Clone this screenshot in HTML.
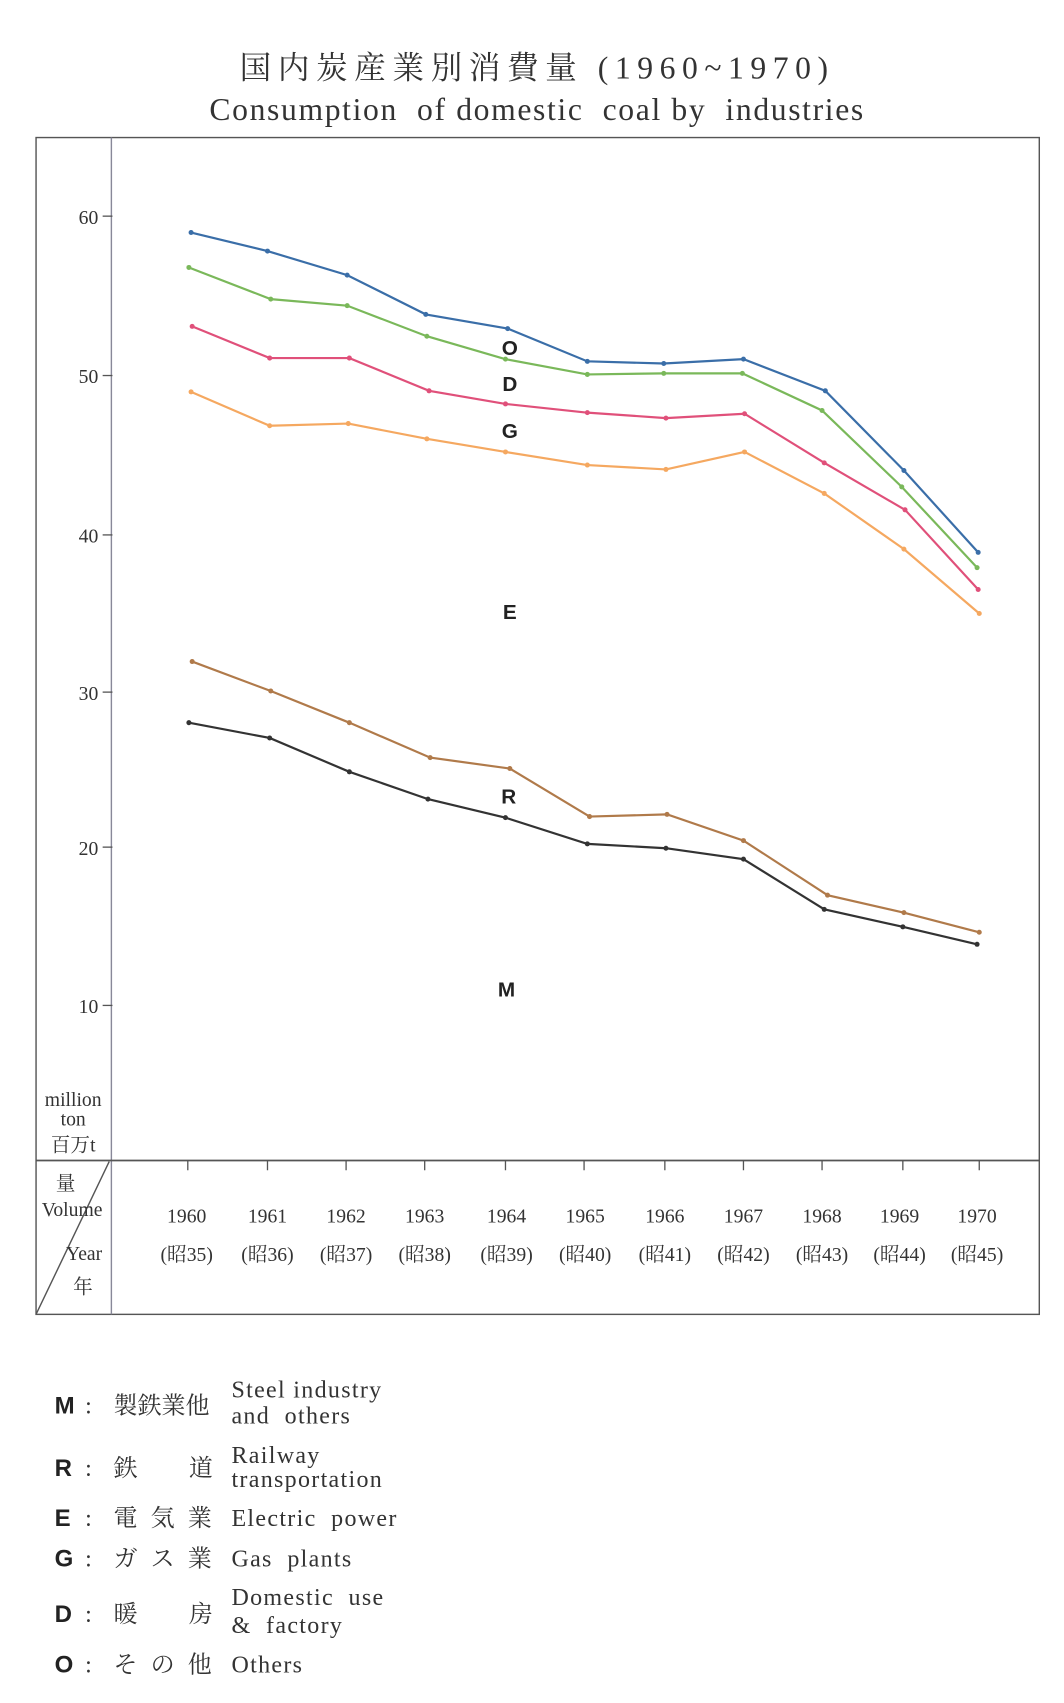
<!DOCTYPE html>
<html><head><meta charset="utf-8"><style>
html,body{margin:0;padding:0;background:#fff;}
svg{display:block;}
text{font-family:"Liberation Serif","Noto Serif CJK SC",serif;fill:#333;white-space:pre;}
.s{font-family:"Liberation Sans",sans-serif;font-weight:bold;fill:#222;}
</style></head><body>
<svg width="1064" height="1703" viewBox="0 0 974.6 1560" xmlns="http://www.w3.org/2000/svg" xml:space="preserve">
<rect width="974.6" height="1560" fill="#fff"/>
<text x="492" y="72" font-size="29" text-anchor="middle" letter-spacing="6">国内炭産業別消費量 (1960~1970)</text>
<text x="492" y="110" font-size="29" text-anchor="middle" letter-spacing="1.5">Consumption  of domestic  coal by  industries</text>
<g stroke="#555" fill="none" stroke-width="1.3">
<rect x="33" y="126" width="919" height="1078"/>
<line x1="102" y1="126" x2="102" y2="1204" stroke="#889"/>
<line x1="33" y1="1063" x2="952" y2="1063" stroke-width="1.6"/>
<line x1="33" y1="1204" x2="100" y2="1064"/>
<g stroke-width="1.2">
<line x1="94" y1="198" x2="103" y2="198"/><line x1="94" y1="344" x2="103" y2="344"/>
<line x1="94" y1="490" x2="103" y2="490"/><line x1="94" y1="634" x2="103" y2="634"/>
<line x1="94" y1="776" x2="103" y2="776"/><line x1="94" y1="921" x2="103" y2="921"/>
</g>
<g stroke-width="1.2">
<line x1="172" y1="1063" x2="172" y2="1072"/><line x1="245" y1="1063" x2="245" y2="1072"/>
<line x1="317" y1="1063" x2="317" y2="1072"/><line x1="389" y1="1063" x2="389" y2="1072"/>
<line x1="463" y1="1063" x2="463" y2="1072"/><line x1="535" y1="1063" x2="535" y2="1072"/>
<line x1="609" y1="1063" x2="609" y2="1072"/><line x1="681" y1="1063" x2="681" y2="1072"/>
<line x1="753" y1="1063" x2="753" y2="1072"/><line x1="827" y1="1063" x2="827" y2="1072"/>
<line x1="897" y1="1063" x2="897" y2="1072"/>
</g>
</g>
<g font-size="18" text-anchor="end">
<text x="90" y="205">60</text><text x="90" y="351">50</text><text x="90" y="497">40</text>
<text x="90" y="641">30</text><text x="90" y="783">20</text><text x="90" y="928">10</text>
</g>
<g font-size="18" text-anchor="middle">
<text x="67" y="1013">million</text><text x="67" y="1031">ton</text><text x="67" y="1055">百万t</text>
<text x="60" y="1090">量</text><text x="66" y="1114">Volume</text><text x="77" y="1154">Year</text><text x="76" y="1185">年</text>
</g>
<g font-size="18" text-anchor="middle">
<text x="171" y="1120">1960</text><text x="245" y="1120">1961</text><text x="317" y="1120">1962</text><text x="389" y="1120">1963</text><text x="464" y="1120">1964</text><text x="536" y="1120">1965</text><text x="609" y="1120">1966</text><text x="681" y="1120">1967</text><text x="753" y="1120">1968</text><text x="824" y="1120">1969</text><text x="895" y="1120">1970</text>
<text x="171" y="1155">(昭35)</text><text x="245" y="1155">(昭36)</text><text x="317" y="1155">(昭37)</text><text x="389" y="1155">(昭38)</text><text x="464" y="1155">(昭39)</text><text x="536" y="1155">(昭40)</text><text x="609" y="1155">(昭41)</text><text x="681" y="1155">(昭42)</text><text x="753" y="1155">(昭43)</text><text x="824" y="1155">(昭44)</text><text x="895" y="1155">(昭45)</text>
</g>
<g fill="none" stroke-width="2">
<polyline stroke="#3a6ea8" points="175,213 245,230 318,252 390,288 465,301 538,331 608,333 681,329 756,358 828,431 896,506"/>
<polyline stroke="#7ab85a" points="173,245 248,274 318,280 391,308 463,329 538,343 608,342 680,342 753,376 826,446 895,520"/>
<polyline stroke="#e0507a" points="176,299 247,328 320,328 393,358 463,370 538,378 610,383 682,379 755,424 829,467 896,540"/>
<polyline stroke="#f5a860" points="175,359 247,390 319,388 391,402 463,414 538,426 610,430 682,414 755,452 828,503 897,562"/>
<polyline stroke="#b07a4a" points="176,606 248,633 320,662 394,694 467,704 540,748 611,746 681,770 758,820 828,836 897,854"/>
<polyline stroke="#333" points="173,662 247,676 320,707 392,732 463,749 538,773 610,777 681,787 755,833 827,849 895,865"/>
</g>
<g fill="#3a6ea8"><circle cx="175" cy="213" r="2.3"/><circle cx="245" cy="230" r="2.3"/><circle cx="318" cy="252" r="2.3"/><circle cx="390" cy="288" r="2.3"/><circle cx="465" cy="301" r="2.3"/><circle cx="538" cy="331" r="2.3"/><circle cx="608" cy="333" r="2.3"/><circle cx="681" cy="329" r="2.3"/><circle cx="756" cy="358" r="2.3"/><circle cx="828" cy="431" r="2.3"/><circle cx="896" cy="506" r="2.3"/></g>
<g fill="#7ab85a"><circle cx="173" cy="245" r="2.3"/><circle cx="248" cy="274" r="2.3"/><circle cx="318" cy="280" r="2.3"/><circle cx="391" cy="308" r="2.3"/><circle cx="463" cy="329" r="2.3"/><circle cx="538" cy="343" r="2.3"/><circle cx="608" cy="342" r="2.3"/><circle cx="680" cy="342" r="2.3"/><circle cx="753" cy="376" r="2.3"/><circle cx="826" cy="446" r="2.3"/><circle cx="895" cy="520" r="2.3"/></g>
<g fill="#e0507a"><circle cx="176" cy="299" r="2.3"/><circle cx="247" cy="328" r="2.3"/><circle cx="320" cy="328" r="2.3"/><circle cx="393" cy="358" r="2.3"/><circle cx="463" cy="370" r="2.3"/><circle cx="538" cy="378" r="2.3"/><circle cx="610" cy="383" r="2.3"/><circle cx="682" cy="379" r="2.3"/><circle cx="755" cy="424" r="2.3"/><circle cx="829" cy="467" r="2.3"/><circle cx="896" cy="540" r="2.3"/></g>
<g fill="#f5a860"><circle cx="175" cy="359" r="2.3"/><circle cx="247" cy="390" r="2.3"/><circle cx="319" cy="388" r="2.3"/><circle cx="391" cy="402" r="2.3"/><circle cx="463" cy="414" r="2.3"/><circle cx="538" cy="426" r="2.3"/><circle cx="610" cy="430" r="2.3"/><circle cx="682" cy="414" r="2.3"/><circle cx="755" cy="452" r="2.3"/><circle cx="828" cy="503" r="2.3"/><circle cx="897" cy="562" r="2.3"/></g>
<g fill="#b07a4a"><circle cx="176" cy="606" r="2.3"/><circle cx="248" cy="633" r="2.3"/><circle cx="320" cy="662" r="2.3"/><circle cx="394" cy="694" r="2.3"/><circle cx="467" cy="704" r="2.3"/><circle cx="540" cy="748" r="2.3"/><circle cx="611" cy="746" r="2.3"/><circle cx="681" cy="770" r="2.3"/><circle cx="758" cy="820" r="2.3"/><circle cx="828" cy="836" r="2.3"/><circle cx="897" cy="854" r="2.3"/></g>
<g fill="#333"><circle cx="173" cy="662" r="2.3"/><circle cx="247" cy="676" r="2.3"/><circle cx="320" cy="707" r="2.3"/><circle cx="392" cy="732" r="2.3"/><circle cx="463" cy="749" r="2.3"/><circle cx="538" cy="773" r="2.3"/><circle cx="610" cy="777" r="2.3"/><circle cx="681" cy="787" r="2.3"/><circle cx="755" cy="833" r="2.3"/><circle cx="827" cy="849" r="2.3"/><circle cx="895" cy="865" r="2.3"/></g>
<g font-size="19" text-anchor="middle">
<text class="s" x="467" y="325">O</text><text class="s" x="467" y="358">D</text><text class="s" x="467" y="401">G</text>
<text class="s" x="467" y="567">E</text><text class="s" x="466" y="736">R</text><text class="s" x="464" y="913">M</text>
</g>
<g font-size="22" letter-spacing="1.2">
<text class="s" x="50" y="1295">M</text><text x="78" y="1295">:</text><text x="104" y="1295" letter-spacing="0">製鉄業他</text>
<text x="212" y="1280">Steel industry</text><text x="212" y="1304">and  others</text>
<text class="s" x="50" y="1352">R</text><text x="78" y="1352">:</text><text x="104" y="1352">鉄</text><text x="173" y="1352">道</text>
<text x="212" y="1340">Railway</text><text x="212" y="1362">transportation</text>
<text class="s" x="50" y="1398">E</text><text x="78" y="1398">:</text><text x="104" y="1398" letter-spacing="12">電気業</text>
<text x="212" y="1398">Electric  power</text>
<text class="s" x="50" y="1435">G</text><text x="78" y="1435">:</text><text x="104" y="1435" letter-spacing="12">ガス業</text>
<text x="212" y="1435">Gas  plants</text>
<text class="s" x="50" y="1486">D</text><text x="78" y="1486">:</text><text x="104" y="1486">暖</text><text x="173" y="1486">房</text>
<text x="212" y="1470">Domestic  use</text><text x="212" y="1496">&amp;  factory</text>
<text class="s" x="50" y="1532">O</text><text x="78" y="1532">:</text><text x="104" y="1532" letter-spacing="12">その他</text>
<text x="212" y="1532">Others</text>
</g>
</svg>
</body></html>
